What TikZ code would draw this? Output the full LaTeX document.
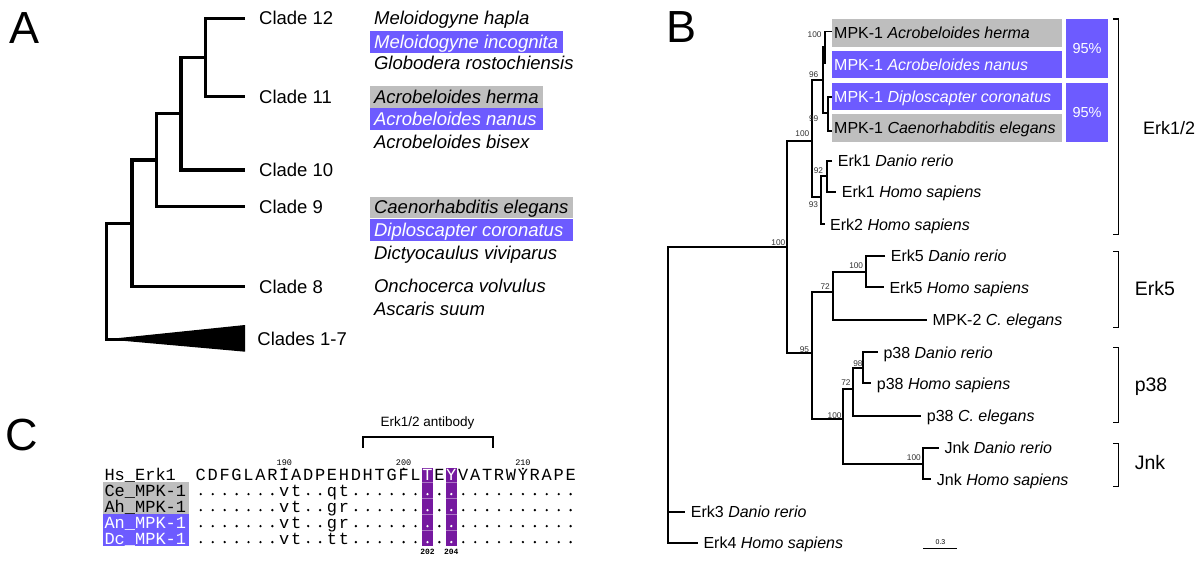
\documentclass[tikz,border=0pt]{standalone}
\usepackage{fontspec}
\setmainfont{Liberation Sans}
\newfontfamily\monofam{Liberation Mono}
\newcommand\fsz[1]{\fontsize{#1}{#1}\selectfont}
\definecolor{hlpurple}{RGB}{109,91,255}
\definecolor{hlgray}{RGB}{190,190,190}
\definecolor{colpurple}{RGB}{118,25,160}
\tikzset{
  treeA/.style={line width=3.2pt},
  treeB/.style={line width=1.9pt},
  brk/.style={line width=1.5pt},
  txt/.style={inner sep=0pt, anchor=base west},
  cladeA/.style={txt, font={\fsz{18.5}}},
  speciesA/.style={txt, font={\fsz{18.5}\itshape}},
  leafB/.style={txt, font={\fsz{16}}},
  boot/.style={inner sep=0pt, anchor=east, font={\fsz{8.3}}, text=black!80},
  bigB/.style={txt, font={\fsz{19.5}}},
  panel/.style={txt, font={\fsz{45}}},
  seq/.style={inner sep=0pt, anchor=base, font={\monofam\fsz{17}}},
  lab/.style={txt, font={\monofam\fsz{17}}},
  ruler/.style={inner sep=0pt, anchor=base, font={\monofam\fsz{8.5}}},
}
\newcommand\seqrowC[3]{%
  \foreach \ch [count=\i] in {#3} {
    \pgfmathsetmacro\xx{200.8+(\i-1)*11.93}
    \ifnum\i=20 \def\cc{white}\else\ifnum\i=22 \def\cc{white}\else\def\cc{black}\fi\fi
    \if o\ch
      \fill[\cc] (\xx,#1-1.9) circle (1.3);
    \else
      \node[seq, text=\cc] (#2\i) at (\xx,#1) {\ch};
    \fi
  }%
}
\begin{document}
\begin{tikzpicture}[x=1pt,y=-1pt]
\fill[white] (0,0) rectangle (1200,563);
\useasboundingbox (0,0) rectangle (1200,563);

% ---------------- Panel letters
\node[panel] (pA) at (9,43.3) {A};
\node[panel] (pB) at (666.5,42.3) {B};
\node[panel] (pC) at (5,450) {C};

% ---------------- Panel A tree
\coordinate (t12) at (245,18.3);
\coordinate (t11) at (245,96.7);
\coordinate (t10) at (245,170);
\coordinate (t9) at (245,206.7);
\coordinate (t8) at (245,286.7);
\coordinate (t17) at (245,339.3);
\coordinate (n1) at (205.5,57.7);
\coordinate (n2) at (181,113.3);
\coordinate (n3) at (156.1,160);
\coordinate (n4) at (132,223.3);
\coordinate (nr) at (106.4,300);
\draw[treeA] (t12) -| (n1) |- (t11);
\draw[treeA] (n1) -| (n2) |- (t10);
\draw[treeA] (n2) -| (n3) |- (t9);
\draw[treeA] (n3) -| (n4) |- (t8);
\draw[treeA] (n4) -| (nr) |- (t17);
\fill (nr |- t17) -- (245,325) -- (245,351.7) -- cycle;

\node[cladeA] (c12) at (259,24.9) {Clade 12};
\node[cladeA] (c11) at (259,103.3) {Clade 11};
\node[cladeA] (c10) at (259,176.6) {Clade 10};
\node[cladeA] (c9) at (259,213.3) {Clade 9};
\node[cladeA] (c8) at (259,293.3) {Clade 8};
\node[cladeA] (c17) at (257.2,345.9) {Clades 1-7};

\fill[hlpurple] (370,31) rectangle (562.6,52.7);
\fill[hlgray] (370,86) rectangle (543.4,107.7);
\fill[hlpurple] (370,108.3) rectangle (543.4,130);
\fill[hlgray] (370,196.7) rectangle (572.9,218.3);
\fill[hlpurple] (370,219.3) rectangle (572.9,240.7);

\node[speciesA] (sMh) at (373.9,24.9) {Meloidogyne hapla};
\node[speciesA, text=white] (sMi) at (373.9,48.3) {Meloidogyne incognita};
\node[speciesA] (sGr) at (373.9,69.9) {Globodera rostochiensis};
\node[speciesA] (sAh) at (373.9,103.3) {Acrobeloides herma};
\node[speciesA, text=white] (sAn) at (373.9,125.9) {Acrobeloides nanus};
\node[speciesA] (sAb) at (373.9,148.9) {Acrobeloides bisex};
\node[speciesA] (sCe) at (373.9,213.9) {Caenorhabditis elegans};
\node[speciesA, text=white] (sDc) at (373.9,236.6) {Diploscapter coronatus};
\node[speciesA] (sDv) at (373.9,259.9) {Dictyocaulus viviparus};
\node[speciesA] (sOv) at (373.9,292.6) {Onchocerca volvulus};
\node[speciesA] (sAs) at (373.9,315.6) {Ascaris suum};

% ---------------- Panel B tree
\coordinate (R) at (668.3,400);
\coordinate (N1) at (787.3,247.3);
\coordinate (tE3) at (685.2,511.7);
\coordinate (tE4) at (697.8,542.7);
\coordinate (NE) at (812,140.7);
\coordinate (N95) at (812,353.3);
\coordinate (N96) at (822.7,80);
\coordinate (N93) at (820.7,196.7);
\coordinate (Nhn) at (825,47);
\coordinate (Ndc) at (828.3,113);
\coordinate (tHe) at (831.7,31.5);
\coordinate (tNa) at (826,63.3);
\coordinate (tDi) at (831.7,96.7);
\coordinate (tCa) at (831.7,131);
\coordinate (N92) at (827.3,176.3);
\coordinate (tE1D) at (832.2,160.7);
\coordinate (tE1H) at (836.2,192);
\coordinate (tE2) at (824.5,224.3);
\coordinate (N72a) at (832.7,292.3);
\coordinate (N100c) at (866,271.7);
\coordinate (tE5D) at (885.2,256);
\coordinate (tE5H) at (883.8,287.3);
\coordinate (tM2) at (926.8,320);
\coordinate (N100b) at (842.7,419.3);
\coordinate (N72b) at (852.7,389);
\coordinate (N98) at (863.3,367.7);
\coordinate (tP38D) at (877.8,352.3);
\coordinate (tP38H) at (871.2,383.3);
\coordinate (tP38C) at (921.2,416);
\coordinate (NJ) at (922.7,464);
\coordinate (tJD) at (938.8,447.7);
\coordinate (tJH) at (931.2,479.3);

\draw[treeB] (N1) -| (R) |- (tE4);
\draw[treeB] (R |- tE3) -- (tE3);
\draw[treeB] (NE) -| (N1) |- (N95);
\draw[treeB] (N96) -| (NE) |- (N93);
\draw[treeB] (Nhn) -| (N96) |- (Ndc);
\draw[treeB] (tHe) -| (Nhn) |- (tNa);
\draw[treeB] (tDi) -| (Ndc) |- (tCa);
\draw[treeB] (N92) -| (N93) |- (tE2);
\draw[treeB] (tE1D) -| (N92) |- (tE1H);
\draw[treeB] (N72a) -| (N95) |- (N100b);
\draw[treeB] (N100c) -| (N72a) |- (tM2);
\draw[treeB] (tE5D) -| (N100c) |- (tE5H);
\draw[treeB] (N72b) -| (N100b) |- (NJ);
\draw[treeB] (N98) -| (N72b) |- (tP38C);
\draw[treeB] (tP38D) -| (N98) |- (tP38H);
\draw[treeB] (tJD) -| (NJ) |- (tJH);

% bootstrap values
\node[boot] (b1) at (785.5,242.5) {100};
\node[boot] (b2) at (809.5,134) {100};
\node[boot] (b3) at (818.5,75) {96};
\node[boot] (b4) at (821.7,35) {100};
\node[boot] (b5) at (818.5,118.3) {99};
\node[boot] (b6) at (823.3,170.8) {92};
\node[boot] (b7) at (818.3,205) {93};
\node[boot] (b8) at (809.3,349.2) {95};
\node[boot] (b9) at (830,286.8) {72};
\node[boot] (b10) at (863.3,265.8) {100};
\node[boot] (b11) at (841.7,415.2) {100};
\node[boot] (b12) at (850.7,382.5) {72};
\node[boot] (b13) at (862.7,363.2) {98};
\node[boot] (b14) at (921,457.5) {100};

% highlighted MPK-1 boxes
\fill[hlgray] (831.7,19) rectangle (1061.7,46.7);
\fill[hlpurple] (831.7,50.7) rectangle (1061.7,78.3);
\fill[hlpurple] (831.7,82.7) rectangle (1061.7,110);
\fill[hlgray] (831.7,114.3) rectangle (1061.7,141.7);
\fill[hlpurple] (1065.7,19) rectangle (1108.3,78.3);
\fill[hlpurple] (1065.7,82.7) rectangle (1108.3,141.7);
\node[inner sep=0pt, text=white, font={\fsz{14.5}}] (p95a) at (1087,48.7) {95\%};
\node[inner sep=0pt, text=white, font={\fsz{14.5}}] (p95b) at (1087,112.2) {95\%};

\node[leafB] (lHe) at (834,38.5) {MPK-1 \textit{Acrobeloides herma}};
\node[leafB, text=white] (lNa) at (834,70.2) {MPK-1 \textit{Acrobeloides nanus}};
\node[leafB, text=white] (lDi) at (834,102) {MPK-1 \textit{Diploscapter coronatus}};
\node[leafB] (lCa) at (834,133.7) {MPK-1 \textit{Caenorhabditis elegans}};
\node[leafB] (lE1D) at (837.7,166.4) {Erk1 \textit{Danio rerio}};
\node[leafB] (lE1H) at (841.7,197.7) {Erk1 \textit{Homo sapiens}};
\node[leafB] (lE2) at (830,230) {Erk2 \textit{Homo sapiens}};
\node[leafB] (lE5D) at (890.7,261.7) {Erk5 \textit{Danio rerio}};
\node[leafB] (lE5H) at (889.3,293) {Erk5 \textit{Homo sapiens}};
\node[leafB] (lM2) at (932.3,325.7) {MPK-2 \textit{C. elegans}};
\node[leafB] (lP38D) at (883.3,358) {p38 \textit{Danio rerio}};
\node[leafB] (lP38H) at (876.7,389) {p38 \textit{Homo sapiens}};
\node[leafB] (lP38C) at (926.7,421.7) {p38 \textit{C. elegans}};
\node[leafB] (lJD) at (944.3,453.4) {Jnk \textit{Danio rerio}};
\node[leafB] (lJH) at (936.7,485) {Jnk \textit{Homo sapiens}};
\node[leafB] (lE3) at (690.7,517.4) {Erk3 \textit{Danio rerio}};
\node[leafB] (lE4) at (703.3,548.4) {Erk4 \textit{Homo sapiens}};

% brackets
\draw[brk] (1113,19) -- (1118.4,19) -- (1118.4,234.3) -- (1113,234.3);
\draw[brk] (1113,251.7) -- (1118.4,251.7) -- (1118.4,327.3) -- (1113,327.3);
\draw[brk] (1113,347.7) -- (1118.4,347.7) -- (1118.4,422.7) -- (1113,422.7);
\draw[brk] (1113,443.3) -- (1118.4,443.3) -- (1118.4,486.7) -- (1113,486.7);
\node[bigB, font={\fsz{18}}] (gE12) at (1143,134.8) {Erk1/2};
\node[bigB] (gE5) at (1134.6,295.3) {Erk5};
\node[bigB] (gP38) at (1134.6,391) {p38};
\node[bigB] (gJnk) at (1134.6,469.7) {Jnk};

% scale bar
\coordinate (sb1) at (923.3,548.3);
\coordinate (sb2) at (957.3,548.3);
\draw[line width=1.1pt] (sb1) -- (sb2);
\node[inner sep=0pt, font={\fsz{7}}] (sbl) at (940.5,542.2) {0.3};

% ---------------- Panel C
\coordinate (bk1) at (362.7,447.7);
\coordinate (bk2) at (492.7,447.7);
\draw[line width=1.8pt] (bk1) -- ++(0,-11) -| (bk2);
\node[inner sep=0pt, font={\fsz{13.5}}] (abl) at (427.5,423.5) {Erk1/2 antibody};

\foreach \n/\k in {190/8,200/18,210/28} {
  \pgfmathsetmacro\xx{200.8+(\k-1)*11.93}
  \node[ruler] (r\n) at (\xx,465) {\n};
  \fill (\xx,468.6) circle (1.1);
}

% highlight columns
\fill[colpurple] (421.97,467.7) rectangle (432.97,545.7);
\fill[colpurple] (445.83,467.7) rectangle (456.83,545.7);
\foreach \yy in {481.7,497.8,514,529.9} {
  \draw[colpurple!60!white, line width=0.4pt] (421.97,\yy) -- (432.97,\yy);
  \draw[colpurple!60!white, line width=0.4pt] (445.83,\yy) -- (456.83,\yy);
}
\node[inner sep=0pt, font={\monofam\bfseries\fsz{8}}] (n202) at (427.5,551.7) {202};
\node[inner sep=0pt, font={\monofam\bfseries\fsz{8}}] (n204) at (451.3,551.7) {204};

% label boxes
\fill[hlgray] (103.3,481.7) rectangle (189,514);
\fill[hlpurple] (103.3,514) rectangle (189,545.7);
\node[lab] (lHs) at (104.3,480) {Hs\_Erk1};
\node[lab] (lCe) at (104.3,496) {Ce\_MPK-1};
\node[lab] (lAh) at (104.3,512) {Ah\_MPK-1};
\node[lab, text=white] (lAn) at (104.3,528) {An\_MPK-1};
\node[lab, text=white] (lDc) at (104.3,544) {Dc\_MPK-1};

\seqrowC{480}{hs}{C,D,F,G,L,A,R,I,A,D,P,E,H,D,H,T,G,F,L,T,E,Y,V,A,T,R,W,Y,R,A,P,E}
\seqrowC{496}{ce}{o,o,o,o,o,o,o,v,t,o,o,q,t,o,o,o,o,o,o,o,o,o,o,o,o,o,o,o,o,o,o,o}
\seqrowC{512}{ah}{o,o,o,o,o,o,o,v,t,o,o,g,r,o,o,o,o,o,o,o,o,o,o,o,o,o,o,o,o,o,o,o}
\seqrowC{528}{an}{o,o,o,o,o,o,o,v,t,o,o,g,r,o,o,o,o,o,o,o,o,o,o,o,o,o,o,o,o,o,o,o}
\seqrowC{544}{dc}{o,o,o,o,o,o,o,v,t,o,o,t,t,o,o,o,o,o,o,o,o,o,o,o,o,o,o,o,o,o,o,o}
\end{tikzpicture}
\end{document}
